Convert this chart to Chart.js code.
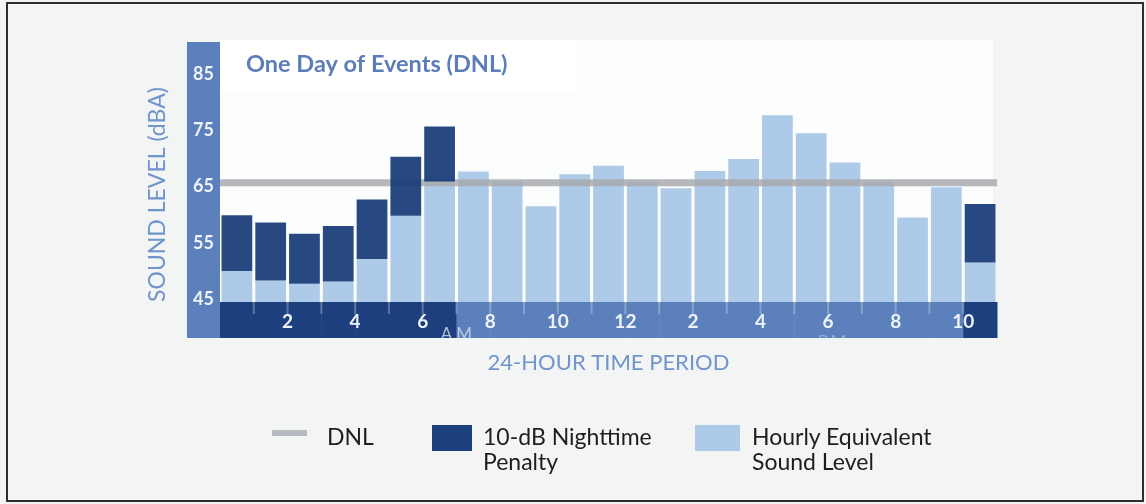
<!DOCTYPE html>
<html><head><meta charset="utf-8">
<script src="https://cdn.jsdelivr.net/npm/chart.js@4.4.1/dist/chart.umd.min.js"></script>
<style>
html,body{margin:0;padding:0;background:#f3f4f4;}
#wrap{position:relative;width:1146px;height:504px;overflow:hidden;background:#f3f4f4;}
#frame{position:absolute;left:6px;top:2px;width:1138px;height:500px;border:2px solid #2e2e2e;box-sizing:border-box;}
canvas{position:absolute;left:0;top:0;}
.lg{position:absolute;font-family:Lato,"Open Sans",sans-serif;font-size:23px;color:#1e1e1e;line-height:25px;white-space:nowrap;}
.sw{position:absolute;}
</style></head><body>
<div id="wrap"><div id="frame"></div><canvas id="c" width="1146" height="504"></canvas><div id="legend"></div></div>
<script>
// ---- data ----
const titleText = 'One Day of Events (DNL)';
const hours = ['1','2','3','4','5','6','7','8','9','10','11','12','13','14','15','16','17','18','19','20','21','22','23'];
const hourly = [50.0, 48.3, 47.7, 48.1, 52.1, 59.8, 65.9, 67.7, 66.0, 61.5, 67.2, 68.7, 65.9, 64.7, 67.8, 69.9, 77.7, 74.5, 69.3, 65.8, 59.5, 64.9, 51.5];
const penalty = [9.9, 10.3, 8.9, 9.9, 10.6, 10.5, 9.8, 0, 0, 0, 0, 0, 0, 0, 0, 0, 0, 0, 0, 0, 0, 0, 10.4];
const dnl = 65.7;
const yTicks = [45, 55, 65, 75, 85];
const hourTicks = [2, 4, 6, 8, 10, 12, 14, 16, 18, 20, 22];
const hourTickLabels = ['2', '4', '6', '8', '10', '12', '2', '4', '6', '8', '10'];
const periodLabels = ['A.M.', 'P.M.'];
const seriesNames = ['DNL', '10-dB Nighttime Penalty', 'Hourly Equivalent Sound Level'];
const yTitle = 'SOUND LEVEL (dBA)';
const xTitle = '24-HOUR TIME PERIOD';

// ---- styles ----
const DARK = '#1e3f7e';
const DARK_A = 'rgba(22,56,118,0.92)';
const MID = '#5b80bc';
const LIGHT = '#aecae9';
const GRAYLINE = 'rgba(168,170,174,0.85)';
const FONT = 'Lato, "Open Sans", sans-serif';

const decor = {
  id: 'decor',
  beforeDraw(chart) {
    const {ctx, chartArea: a, scales} = chart;
    const xh = scales.xh, y = scales.y;
    ctx.save();
    // white plot panel
    ctx.fillStyle = '#fcfdfd';
    ctx.fillRect(a.left, a.top - 2, a.right - a.left - 4, a.bottom - a.top + 2);
    ctx.fillStyle = '#ffffff';
    ctx.fillRect(a.left, a.top - 2, 358, 52);
    // left axis strip
    const stripH = 36;
    ctx.fillStyle = MID;
    ctx.fillRect(y.right - 33, a.top, 33, xh.top + stripH - a.top);
    // bottom axis strip: night hours dark
    for (let i = 0; i < hours.length; i++) {
      const x0 = xh.getPixelForValue(i), x1 = xh.getPixelForValue(i + 1);
      ctx.fillStyle = penalty[i] > 0 ? DARK : MID;
      ctx.fillRect(x0, xh.top, x1 - x0 + 0.5, stripH);
    }
    // small tick marks continuing the bar gaps
    ctx.strokeStyle = 'rgba(235,242,250,0.3)';
    ctx.lineWidth = 2;
    for (let i = 1; i < hours.length; i++) {
      const x = xh.getPixelForValue(i);
      ctx.beginPath(); ctx.moveTo(x, xh.top); ctx.lineTo(x, xh.top + 12); ctx.stroke();
    }
    // faint, cropped period labels at the bottom edge of the strip
    ctx.save();
    ctx.beginPath(); ctx.rect(a.left, xh.top, a.right - a.left, stripH); ctx.clip();
    ctx.font = '17px ' + FONT;
    ctx.fillStyle = 'rgba(205,214,228,0.85)';
    ctx.textBaseline = 'top';
    ctx.textAlign = 'center';
    ctx.fillText(periodLabels[0], xh.getPixelForValue(7) + 2, xh.top + 24);
    ctx.fillStyle = 'rgba(205,214,228,0.5)';
    ctx.fillText(periodLabels[1], xh.getPixelForValue(18) + 6, xh.top + 32);
    ctx.restore();
    // chart title inside the panel
    ctx.font = 'bold 23.5px ' + FONT;
    ctx.fillStyle = '#5b7db8';
    ctx.textBaseline = 'middle';
    ctx.textAlign = 'left';
    ctx.fillText(titleText, a.left + 26, 64);
    ctx.restore();
  }
};

new Chart(document.getElementById('c'), {
  data: {
    labels: hours,
    datasets: [
      {
        type: 'bar', label: seriesNames[1], xAxisID: 'x', yAxisID: 'y',
        data: hourly.map((h, i) => penalty[i] > 0 ? [h, h + penalty[i]] : null),
        backgroundColor: DARK_A, grouped: false, order: 0,
        barPercentage: 0.91, categoryPercentage: 1.0, borderWidth: 0
      },
      {
        type: 'line', label: seriesNames[0], xAxisID: 'xh', yAxisID: 'y',
        data: [{x: 0, y: dnl}, {x: hours.length, y: dnl}],
        borderColor: GRAYLINE, borderWidth: 7, pointRadius: 0, fill: false,
        borderCapStyle: 'butt', order: 1
      },
      {
        type: 'bar', label: seriesNames[2], xAxisID: 'x', yAxisID: 'y',
        data: hourly,
        backgroundColor: LIGHT, grouped: false, order: 2,
        barPercentage: 0.91, categoryPercentage: 1.0, borderWidth: 0
      }
    ]
  },
  options: {
    responsive: false,
    animation: false,
    layout: {padding: {left: 144, right: 149, top: 42, bottom: 128}},
    plugins: {legend: {display: false}, tooltip: {enabled: false}, title: {display: false}},
    scales: {
      x: {type: 'category', display: false, offset: true},
      xh: {
        type: 'linear', position: 'bottom', min: 0, max: hours.length,
        afterBuildTicks: s => { s.ticks = hourTicks.map(v => ({value: v})); },
        afterFit: s => { s.height = 74; },
        grid: {display: false, drawTicks: false},
        border: {display: false},
        ticks: {
          autoSkip: false, maxRotation: 0, padding: 8,
          color: '#eef3fa', font: {family: FONT, size: 19, weight: 'bold'},
          callback: (v, i) => hourTickLabels[i]
        },
        title: {display: true, text: xTitle, color: '#7094cc', font: {family: FONT, size: 22}, padding: {top: 0, bottom: 0}}
      },
      y: {
        type: 'linear', position: 'left', min: 44.47, max: 90.73,
        afterBuildTicks: s => { s.ticks = yTicks.map(v => ({value: v})); },
        afterFit: s => { s.width = 76; },
        grid: {display: false, drawTicks: false},
        border: {display: false},
        ticks: {padding: 6, color: '#eef2f9', font: {family: FONT, size: 18, weight: 'bold'}},
        title: {display: true, text: yTitle, align: 'start', color: '#7094cc', font: {family: FONT, size: 23}, padding: 0}
      }
    }
  },
  plugins: [decor]
});

// ---- legend (HTML) ----
const lg = document.getElementById('legend');
function add(html) { lg.insertAdjacentHTML('beforeend', html); }
add(`<div class="sw" style="left:272px;top:430px;width:35px;height:6px;background:#b7babe"></div>`);
add(`<div class="lg" style="left:327px;top:424px">${seriesNames[0]}</div>`);
add(`<div class="sw" style="left:432px;top:425px;width:40px;height:26px;background:${DARK}"></div>`);
add(`<div class="lg" style="left:483px;top:424px">10-dB Nighttime<br>Penalty</div>`);
add(`<div class="sw" style="left:695px;top:425px;width:45px;height:26px;background:${LIGHT}"></div>`);
add(`<div class="lg" style="left:752px;top:424px">Hourly Equivalent<br>Sound Level</div>`);
</script>
</body></html>
